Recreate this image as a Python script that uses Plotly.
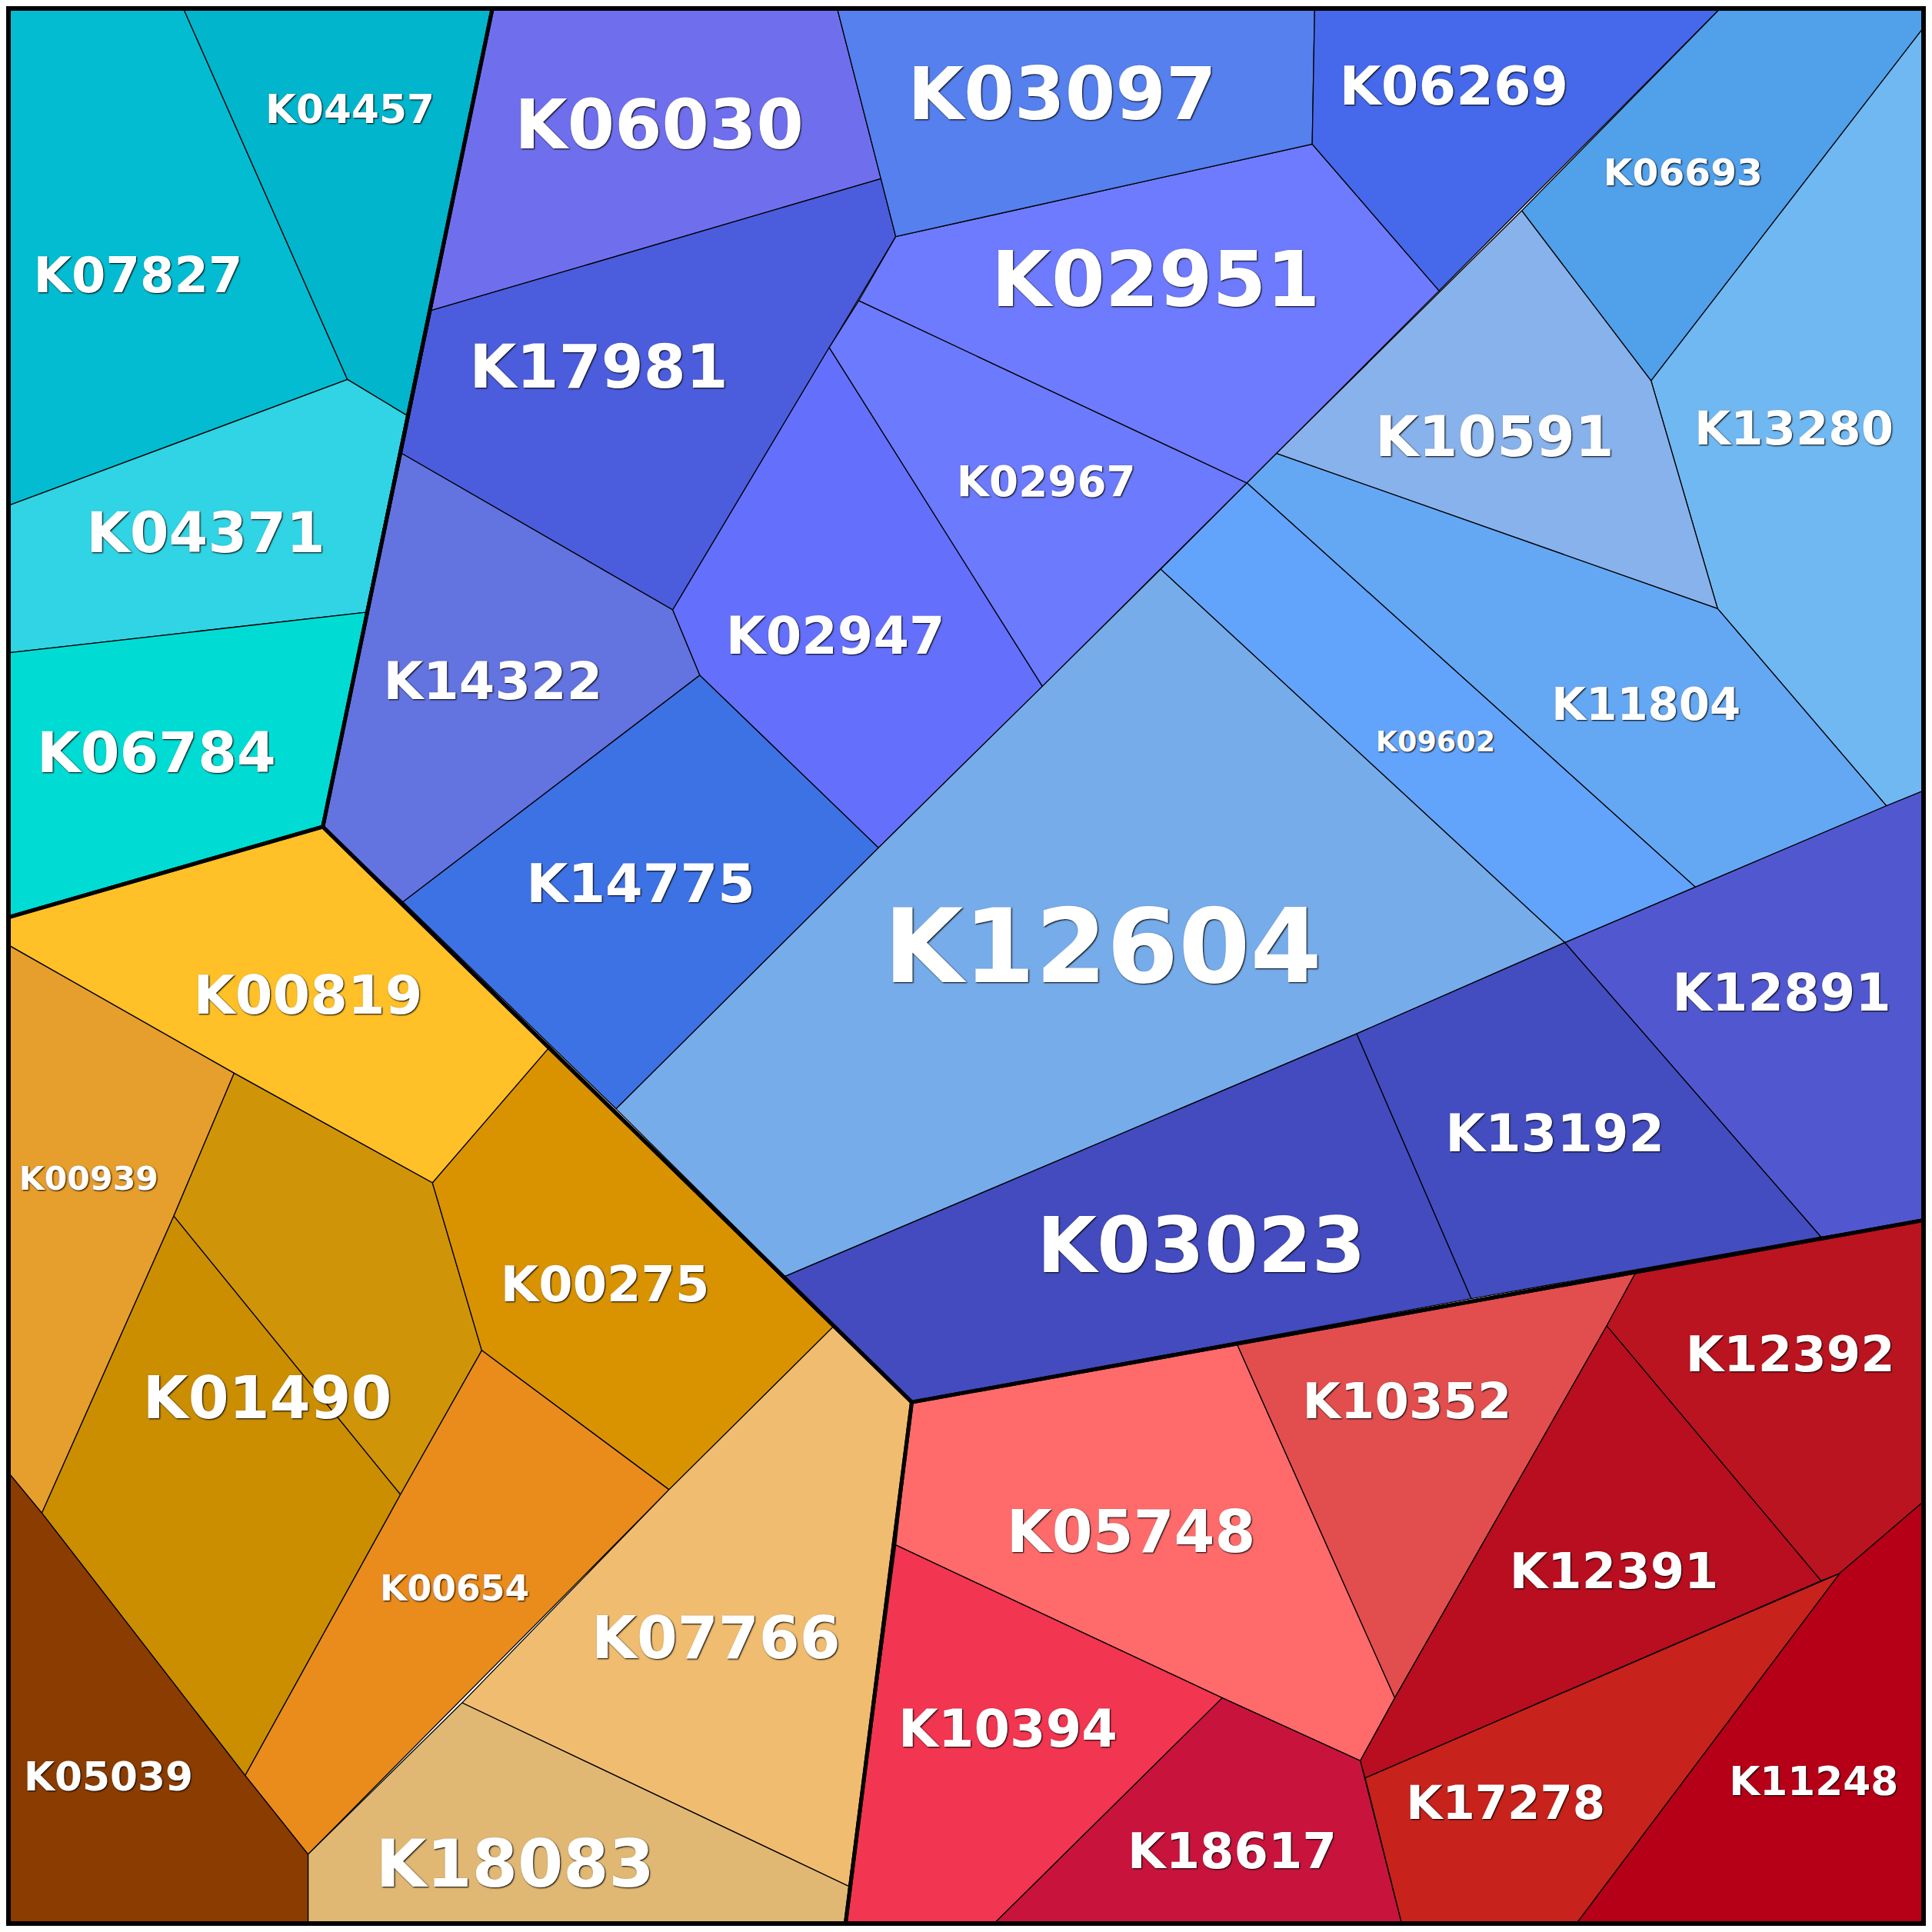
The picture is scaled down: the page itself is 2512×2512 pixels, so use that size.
import plotly.graph_objects as go

S = 2512 / 1568.0
OFF = 8  # browser body margin in px
W = 2512 - 2 * OFF
X0, X1 = OFF / S, (OFF + W) / S
FS = 0.95 * S
DY = 4

names = ["K07827","K04457","K04371","K06784",
 "K06030","K17981","K14322","K14775","K02947","K02967","K02951","K03097","K06269","K06693","K13280",
 "K10591","K11804","K09602","K12604","K12891","K13192","K03023",
 "K00819","K00939","K01490","","K00275","K00654","K07766","K18083","K05039",
 "K05748","K10352","K12392","K12391","K11248","K17278","K10394","K18617"]

colors = ["#03BCD2","#00B5CC","#30D4E4","#00DCD4",
 "#6F6FEE","#4B5DDC","#6373E0","#3D72E5","#6470FC","#6C7AFD","#6E7BFE","#5580EE","#4569EA","#50A0EA","#70B8F2",
 "#88B2EC","#64A8F4","#62A4FC","#76ACEA","#5158CF","#434DC0","#434BBF",
 "#FFC028","#E69E2C","#D09408","#CA8E00","#DA9300","#E98C1C","#F0BC70","#E0B874","#8B3C00",
 "#FF6B6B","#E24E4E","#BA1420","#B80E20","#B60018","#C8221C","#F23550","#C8143C"]

cells = [
 [(5,5),(148,5),(282,308),(5,411)],
 [(148,5),(400,5),(330,337),(282,308)],
 [(5,411),(282,308),(330,337),(297,497),(5,530)],
 [(5,530),(297,497),(262,671),(5,745)],
 [(400,5),(679,5),(715,145),(350,252)],
 [(350,252),(715,145),(727,192),(546,495),(326,368)],
 [(326,368),(546,495),(568,548),(327,732),(262,671)],
 [(327,732),(568,548),(713,688),(500,900)],
 [(546,495),(673,282),(846,557),(713,688),(568,548)],
 [(673,282),(697,244),(1012,392),(846,557)],
 [(727,192),(1065,117),(1168,236),(1012,392),(697,244)],
 [(679,5),(1067,5),(1065,117),(727,192)],
 [(1067,5),(1398,5),(1168,236),(1065,117)],
 [(1398,5),(1563,5),(1563,20),(1340,309),(1235,171)],
 [(1563,20),(1563,641),(1531,654),(1394,494),(1340,309)],
 [(1235,171),(1340,309),(1394,494),(1036,368)],
 [(1036,368),(1394,494),(1531,654),(1376,720),(1012,392)],
 [(1012,392),(1376,720),(1270,765),(942,462)],
 [(942,462),(1270,765),(1101,839),(637,1036),(500,900),(713,688),(846,557)],
 [(1270,765),(1376,720),(1531,654),(1563,641),(1563,990),(1478,1004)],
 [(1101,839),(1270,765),(1478,1004),(1194,1054)],
 [(637,1036),(1101,839),(1194,1054),(740,1138),(676,1077)],
 [(5,745),(262,671),(445,851),(351,960),(190,871),(5,766)],
 [(5,766),(190,871),(141,987),(34,1228),(5,1193)],
 [(190,871),(351,960),(391,1096),(325,1213),(141,987)],
 [(141,987),(325,1213),(199,1441),(34,1228)],
 [(445,851),(676,1077),(543,1209),(391,1096),(351,960)],
 [(391,1096),(543,1209),(250,1505),(199,1441),(325,1213)],
 [(543,1209),(676,1077),(740,1138),(689,1531),(375,1382)],
 [(375,1382),(689,1531),(686,1563),(250,1563),(250,1505)],
 [(5,1193),(34,1228),(199,1441),(250,1505),(250,1563),(5,1563)],
 [(740,1138),(1004,1091),(1132,1378),(1104,1429),(992,1378),(727,1254)],
 [(1004,1091),(1328,1032),(1304,1076),(1132,1378)],
 [(1328,1032),(1563,990),(1563,1217),(1493,1277),(1478,1283),(1304,1076)],
 [(1304,1076),(1478,1283),(1108,1443),(1104,1429),(1132,1378)],
 [(1563,1217),(1563,1563),(1278,1563),(1493,1277)],
 [(1108,1443),(1478,1283),(1493,1277),(1278,1563),(1138,1563)],
 [(727,1254),(992,1378),(805,1563),(686,1563)],
 [(992,1378),(1104,1429),(1138,1563),(805,1563)],
]

labels = [("K04457",284,88,34),("K07827",112,223,42),("K04371",167,433,48),("K06784",127,611,48),
 ("K06030",535,103,58),("K17981",486,298,52),("K14322",400,553,44),("K14775",520,717,46),
 ("K02947",678,516,44),("K02967",849,390,36),("K02951",938,229,66),("K03097",862,78,62),
 ("K06269",1180,70,46),("K06693",1366,139,32),("K13280",1456,347,40),("K10591",1213,355,48),
 ("K11804",1336,571,38),("K09602",1165,600,24),("K12604",895,772,88),("K12891",1446,806,44),
 ("K13192",1262,920,44),("K03023",975,1013,66),("K00819",250,808,46),("K00939",72,955,28),
 ("K01490",217,1135,50),("K00275",491,1042,42),("K00654",369,1288,30),("K07766",581,1330,50),
 ("K18083",418,1514,56),("K05039",88,1441,34),("K05748",918,1244,50),("K10352",1142,1137,42),
 ("K12392",1453,1099,42),("K12391",1310,1275,42),("K11248",1472,1445,34),("K17278",1222,1463,40),
 ("K10394",818,1403,44),("K18617",1000,1502,42)]

groups = [
 [(5,5),(400,5),(262,671),(5,745)],
 [(400,5),(1563,5),(1563,990),(740,1138),(262,671)],
 [(5,745),(262,671),(740,1138),(686,1563),(5,1563)],
 [(740,1138),(1563,990),(1563,1563),(686,1563)],
]

fig = go.Figure()
for n, c, poly in zip(names, colors, cells):
    xs = [p[0] for p in poly] + [poly[0][0]]
    ys = [p[1] for p in poly] + [poly[0][1]]
    fig.add_trace(go.Scatter(x=xs, y=ys, fill="toself", fillcolor=c, mode="lines",
                             line=dict(color="black", width=1.3), hoverinfo="skip", showlegend=False))
for poly in groups:
    xs = [p[0] for p in poly] + [poly[0][0]]
    ys = [p[1] for p in poly] + [poly[0][1]]
    fig.add_trace(go.Scatter(x=xs, y=ys, mode="lines", line=dict(color="black", width=5),
                             hoverinfo="skip", showlegend=False))
for t, x, y, s in labels:
    fig.add_trace(go.Scatter(x=[x], y=[y + DY], mode="text", text=[t], hoverinfo="skip", showlegend=False,
        textfont=dict(family="DejaVu Sans", size=s * FS, color="white", weight="bold",
                      shadow="1px 1px 2px #000")))

fig.add_shape(type="rect", xref="paper", yref="paper", x0=0, y0=0, x1=1, y1=1,
              line=dict(color="black", width=12))

fig.update_layout(width=W, height=W, margin=dict(l=0, r=0, t=0, b=0),
                  paper_bgcolor="white", plot_bgcolor="white",
                  xaxis=dict(range=[X0, X1], visible=False, fixedrange=True),
                  yaxis=dict(range=[X1, X0], visible=False, fixedrange=True))
fig.write_html("out.html")
